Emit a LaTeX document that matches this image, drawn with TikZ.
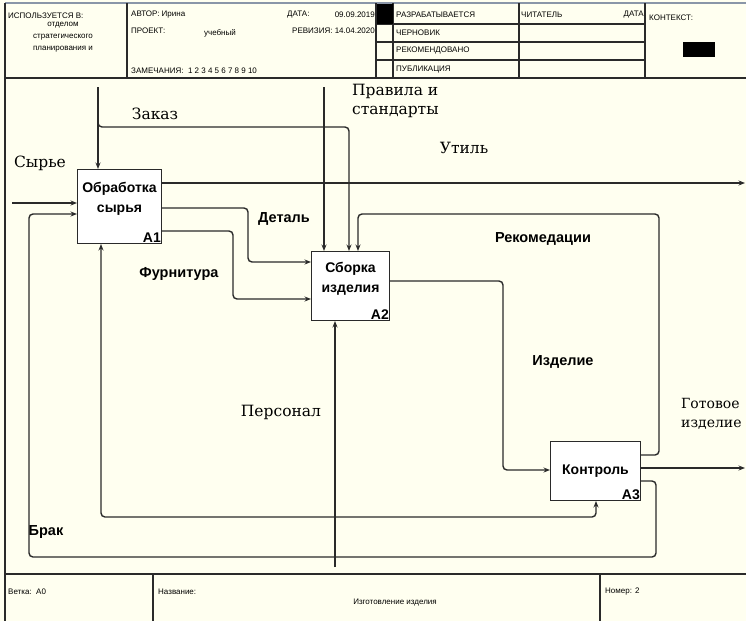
\documentclass[tikz,border=0pt]{standalone}
\usepackage{fontspec}
\setmainfont{Liberation Sans}
\newfontfamily\serifl{DejaVu Serif}
\usetikzlibrary{arrows.meta}
\definecolor{bg}{HTML}{FFFFF0}
\definecolor{ln}{HTML}{2A2A2A}
\definecolor{topln}{HTML}{8A96A8}
\begin{document}
\begin{tikzpicture}[x=1pt,y=-1pt,
  conn/.style={draw=ln,line width=1.4pt,rounded corners=4pt,-{Stealth[length=6.5pt,width=5pt]}},
  frame/.style={draw=ln,line width=1.1pt},
  fn/.style={draw=ln,fill=white,line width=1pt,anchor=north west,inner sep=0pt,font=\bfseries\fontsize{14}{20}\selectfont,align=center},
  num/.style={font=\bfseries\fontsize{14}{14}\selectfont,inner sep=1pt,anchor=south east},
  sl/.style={font=\bfseries\fontsize{14.5}{16}\selectfont,inner sep=0pt},
  rl/.style={font=\serifl\fontsize{15.5}{18.5}\selectfont,inner sep=0pt},
  hd/.style={font=\fontsize{8}{9}\selectfont,inner sep=0pt},
]
\fill[bg] (0,0) rectangle (746,621);
\useasboundingbox (0,0) rectangle (746,621);

% frame and header
\draw[topln,line width=1.4pt] (5,3) -- (746,3);
\draw[frame] (5,3) -- (5,621);
\draw[frame] (5,78) -- (746,78);
\foreach \x in {127,376,393,519,645} \draw[frame] (\x,3) -- (\x,78);
\foreach \y in {24,42,60} \draw[frame] (376,\y) -- (645,\y);
\fill[black] (377,4) rectangle (393,24);
\fill[black] (683,42) rectangle (715,57);

\node[hd,anchor=west] (h1) at (8,16) {ИСПОЛЬЗУЕТСЯ В:};
\node[hd] (h2) at (63,25) {отделом};
\node[hd] (h3) at (63,37) {стратегического};
\node[hd] (h4) at (63,49) {планирования и};
\node[hd,anchor=west] (h5) at (131,15) {АВТОР: Ирина};
\node[hd,anchor=west] (h6) at (287,15) {ДАТА:};
\node[hd,anchor=east] (h7) at (375,15) {09.09.2019};
\node[hd,anchor=west] (h8) at (131,31) {ПРОЕКТ:};
\node[hd] (h9) at (220,33) {учебный};
\node[hd,anchor=east] (h10) at (375,31) {РЕВИЗИЯ: 14.04.2020};
\node[hd,anchor=west] (h11) at (131,71) {ЗАМЕЧАНИЯ:\ \ 1 2 3 4 5 6 7 8 9 10};
\node[hd,anchor=west] (h12) at (396,15) {РАЗРАБАТЫВАЕТСЯ};
\node[hd,anchor=west] (h13) at (396,33) {ЧЕРНОВИК};
\node[hd,anchor=west] (h14) at (396,51) {РЕКОМЕНДОВАНО};
\node[hd,anchor=west] (h15) at (396,70) {ПУБЛИКАЦИЯ};
\node[hd,anchor=west] (h16) at (521,15) {ЧИТАТЕЛЬ};
\node[hd,anchor=east] (h17) at (644,15) {ДАТА};
\node[hd,anchor=west] (h18) at (649,18) {КОНТЕКСТ:};

% footer
\draw[frame] (5,574) -- (746,574);
\draw[frame] (153,574) -- (153,621);
\draw[frame] (600,574) -- (600,621);
\node[hd,anchor=west] (f1) at (8,592) {Ветка:\ \ А0};
\node[hd,anchor=west] (f2) at (158,592) {Название:};
\node[hd] (f3) at (395,603) {Изготовление изделия};
\node[hd,anchor=west] (f4) at (605,592) {Номер: 2};

% function boxes
\node[fn,minimum width=84pt,minimum height=74pt,label={[num]south east:A1}] (A1) at (77,169) {Обработка\\сырья\\[-2pt]};
\node[fn,minimum width=78pt,minimum height=69pt,label={[num]south east:A2}] (A2) at (311,251) {Сборка\\изделия\\[-2pt]};
\node[fn,minimum width=90pt,minimum height=59pt,label={[num]south east:A3}] (A3) at (550,441) {Контроль};

% free ends
\coordinate (syr) at (12,203);
\coordinate (zak) at (98,87);
\coordinate (zakj) at (98,118);
\coordinate (pra) at (324,87);
\coordinate (utl) at (745,183);
\coordinate (got) at (745,468);
\coordinate (per) at (335,567);
\coordinate (perj) at (335,517);

% connectors
\draw[conn] (syr) -- (A1.west |- syr);
\draw[conn] (A3.east |- 0,481) -- (656,481) -- (656,557) -- (29,557) -- (29,214) -- (A1.west |- 0,214);
\draw[conn] (zak) -- (zak |- A1.north);
\draw[conn] (zakj) -- (98,127) -- (349,127) -- (A2.north -| 349,0);
\draw[conn] (pra) -- (pra |- A2.north);
\draw[conn] (A1.east |- utl) -- (utl);
\draw[conn] (A1.east |- 0,208) -- (248,208) -- (248,262) -- (A2.west |- 0,262);
\draw[conn] (A1.east |- 0,231) -- (233,231) -- (233,299) -- (A2.west |- 0,299);
\draw[conn] (A2.east |- 0,281) -- (503,281) -- (503,470) -- (A3.west |- 0,470);
\draw[conn] (A3.east |- got) -- (got);
\draw[conn] (A3.east |- 0,455) -- (659,455) -- (659,214) -- (358,214) -- (A2.north -| 358,0);
\draw[conn] (per) -- (per |- A2.south);
\draw[conn] (perj) -- (101,517) -- (A1.south -| 101,0);
\draw[conn] (perj) -- (596,517) -- (A3.south -| 596,0);

% labels
\node[rl] (lzak) at (155,114) {Заказ};
\node[rl] (lsyr) at (40,163) {Сырье};
\node[rl,anchor=west,align=left] (lpra) at (352,101) {Правила и\\стандарты};
\node[rl] (lutl) at (464,148) {Утиль};
\node[sl] (ldet) at (284,219) {Деталь};
\node[sl] (lfur) at (179,274) {Фурнитура};
\node[sl] (lrek) at (543,239) {Рекомедации};
\node[sl] (lizd) at (563,362) {Изделие};
\node[rl] (lper) at (281,412) {Персонал};
\node[rl,font=\serifl\fontsize{14}{18.5}\selectfont,anchor=west,align=left] (lgot) at (681,414) {Готовое\\изделие};
\node[sl] (lbrk) at (46,532) {Брак};
\end{tikzpicture}
\end{document}
